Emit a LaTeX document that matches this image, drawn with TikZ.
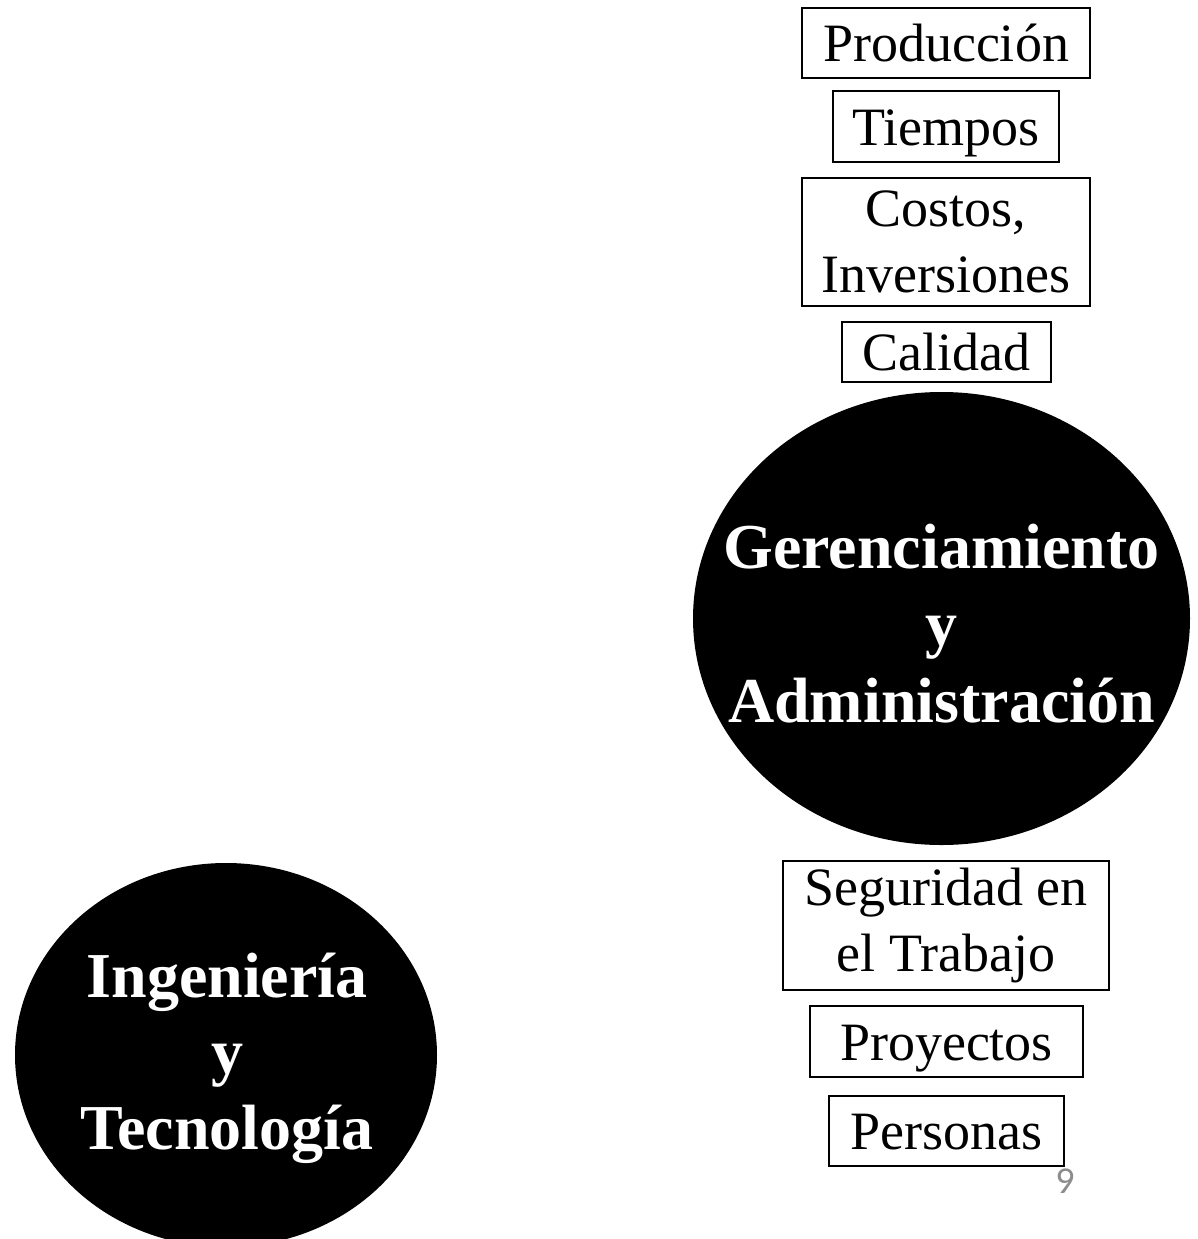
\documentclass[tikz,border=0pt]{standalone}
\usepackage{fontspec}
\setmainfont{Liberation Serif}
\newfontfamily\pagenumfont{Carlito}
\usetikzlibrary{shapes.geometric}
\definecolor{pagegray}{RGB}{140,140,140}
\tikzset{
  itembox/.style={draw=black, line width=2.2pt, inner sep=0pt, align=center,
    font=\fontsize{54}{66}\selectfont},
  oneline/.style={text height=37pt, text depth=0pt},
  blob/.style={ellipse, fill=black, draw=none, inner sep=0pt},
  blobtext/.style={text=white, inner sep=0pt, align=center,
    font=\bfseries\fontsize{64}{77}\selectfont},
}
\begin{document}
\begin{tikzpicture}[x=1pt, y=-1pt]
\useasboundingbox (0,0) rectangle (1198,1239);

% top boxes
\node[itembox, oneline, minimum width=288pt, minimum height=70pt] (prod) at (946,43) {Producción};
\node[itembox, oneline, minimum width=226pt, minimum height=71pt] (tiem) at (946,126.5) {Tiempos};
\node[itembox, minimum width=288pt, minimum height=128pt] (cost) at (946,242) {Costos,\\Inversiones};
\node[itembox, oneline, minimum width=209pt, minimum height=60pt] (cali) at (946.5,352) {Calidad};

% management ellipse
\node[blob, minimum width=497pt, minimum height=453pt] (ger) at (941.5,618.5) {};
\node[blobtext] (gertext) at (941.5,624) {Gerenciamiento\\y\\Administración};

% bottom boxes
\node[itembox, minimum width=326pt, minimum height=129pt] (segu) at (946,925.5) {Seguridad en\\el Trabajo};
\node[itembox, oneline, minimum width=273pt, minimum height=71pt] (proy) at (946.5,1041.5) {Proyectos};
\node[itembox, oneline, minimum width=235pt, minimum height=70pt] (pers) at (946.5,1131) {Personas};

% engineering ellipse
\node[blob, minimum width=422pt, minimum height=384pt] (ing) at (226,1055) {};
\node[blobtext, font=\bfseries\fontsize{64}{76}\selectfont] (ingtext) at (227,1058) {Ingeniería\\y\\Tecnología};

% page number
\node[anchor=base, inner sep=0pt, text=pagegray, font=\pagenumfont\fontsize{38}{40}\selectfont] (pnum) at (1065,1193) {9};
\end{tikzpicture}
\end{document}
